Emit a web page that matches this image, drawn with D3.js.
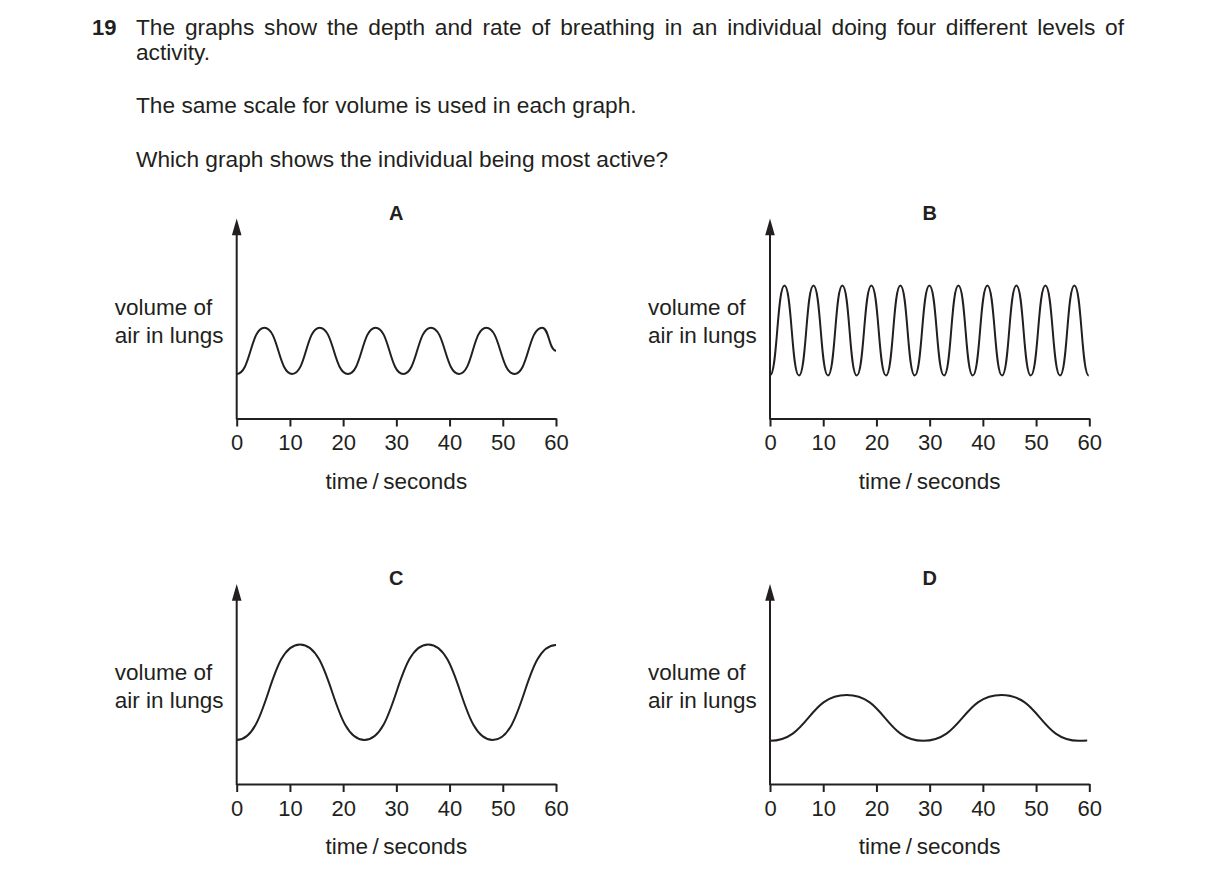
<!DOCTYPE html>
<html>
<head>
<meta charset="utf-8">
<script src="https://cdn.jsdelivr.net/npm/d3@7"></script>
<style>
  body { margin: 0; background: #fff; }
  text { font-family: "Liberation Sans", Arial, sans-serif; fill: #231f20; }
</style>
</head>
<body>
<div id="chart"></div>
<script>
// question text
const questionNo = "19";
const questionLines = [
  "The graphs show the depth and rate of breathing in an individual doing four different levels of",
  "activity.",
  "The same scale for volume is used in each graph.",
  "Which graph shows the individual being most active?"
];

// axis ticks (seconds)
const timeTicks = [0, 10, 20, 30, 40, 50, 60];

// panel letters
const panelNames = ["A", "B", "C", "D"];

// turning points (time in s, volume in arbitrary units 0-100)
const timeA = [0, 5.2, 10.45, 15.6, 20.9, 26.1, 31.3, 36.5, 41.8, 46.9, 52.2, 57.4, 60];
const volA  = [22.3, 45.4, 22.3, 45.4, 22.3, 45.4, 22.3, 45.4, 22.3, 45.4, 22.3, 45.4, 33.9];

const timeB = [0, 2.72, 5.45, 8.17, 10.9, 13.6, 16.3, 19.05, 21.8, 24.5, 27.2, 29.95, 32.7,
               35.4, 38.1, 40.85, 43.6, 46.3, 49.0, 51.75, 54.5, 57.2, 59.9];
const volB  = [21.5, 66.5, 21.5, 66.5, 21.5, 66.5, 21.5, 66.5, 21.5, 66.5, 21.5, 66.5, 21.5,
               66.5, 21.5, 66.5, 21.5, 66.5, 21.5, 66.5, 21.5, 66.5, 21.5];

const timeC = [0, 11.9, 24.0, 36.0, 48.1, 60];
const volC  = [22, 69.8, 22, 69.8, 22, 69.5];

const timeD = [0, 14.4, 28.8, 43.5, 58, 59.6];
const volD  = [21.6, 44.5, 21.6, 44.5, 21.6, 21.7];

const panels = [
  { name: panelNames[0], x0: 236.7, y0: 418.5, t: timeA, v: volA },
  { name: panelNames[1], x0: 770,   y0: 418.5, t: timeB, v: volB },
  { name: panelNames[2], x0: 236.7, y0: 784,   t: timeC, v: volC },
  { name: panelNames[3], x0: 770,   y0: 784,   t: timeD, v: volD }
];

const W = 1216, H = 880;
const plotW = 319.3, plotH = 200;

const svg = d3.select("#chart").append("svg")
  .attr("width", W)
  .attr("height", H);

// --- question ---
svg.append("text")
  .attr("x", 92)
  .attr("y", 35)
  .style("font-size", "22px")
  .style("font-weight", "bold")
  .text(questionNo);

const lineY = [35, 60, 113, 167];
questionLines.forEach((line, i) => {
  const t = svg.append("text")
    .attr("x", 136)
    .attr("y", lineY[i])
    .style("font-size", "22.7px")
    .text(line);
  if (i === 0) {
    // justified first line
    const gaps = line.split(" ").length - 1;
    const extra = (1124 - 136 - t.node().getComputedTextLength()) / gaps;
    t.style("word-spacing", extra + "px");
  }
});

// --- panels ---
panels.forEach(p => {
  const g = svg.append("g").attr("transform", `translate(${p.x0},${p.y0})`);

  const x = d3.scaleLinear().domain([0, 60]).range([0, plotW]);
  const y = d3.scaleLinear().domain([0, 100]).range([0, -plotH]);

  // x axis
  const xAxis = g.append("g")
    .call(d3.axisBottom(x).tickValues(timeTicks).tickSize(8).tickPadding(8).tickSizeOuter(0));
  xAxis.select(".domain").attr("stroke", "#231f20").attr("stroke-width", 2);
  xAxis.selectAll(".tick line").attr("stroke", "#231f20").attr("stroke-width", 2);
  xAxis.selectAll(".tick text")
    .style("font-family", "'Liberation Sans', Arial, sans-serif")
    .style("font-size", "22px")
    .attr("fill", "#231f20");

  // y axis with arrow
  g.append("line")
    .attr("x1", 0).attr("x2", 0)
    .attr("y1", 1).attr("y2", y(92))
    .attr("stroke", "#231f20").attr("stroke-width", 2);
  g.append("path")
    .attr("d", `M0,${y(100)} L-4.8,${y(91.6)} L4.8,${y(91.6)} Z`)
    .attr("fill", "#231f20");

  // panel letter
  g.append("text")
    .attr("x", x(30))
    .attr("y", -199)
    .attr("text-anchor", "middle")
    .style("font-size", "20px")
    .style("font-weight", "bold")
    .text(p.name);

  // axis titles
  g.append("text")
    .attr("x", -122)
    .attr("y", -104)
    .style("font-size", "22.5px")
    .text("volume of");
  g.append("text")
    .attr("x", -122)
    .attr("y", -76)
    .style("font-size", "22.5px")
    .text("air in lungs");
  g.append("text")
    .attr("x", x(30))
    .attr("y", 70)
    .attr("text-anchor", "middle")
    .style("font-size", "22.5px")
    .text("time\u2009/\u2009seconds");

  // breathing trace
  const pts = p.t.map((t, i) => [t, p.v[i]]);
  const line = d3.line()
    .x(d => x(d[0]))
    .y(d => y(d[1]))
    .curve(d3.curveBumpX);
  g.append("path")
    .datum(pts)
    .attr("d", line)
    .attr("fill", "none")
    .attr("stroke", "#231f20")
    .attr("stroke-width", 2);
});
</script>
</body>
</html>
